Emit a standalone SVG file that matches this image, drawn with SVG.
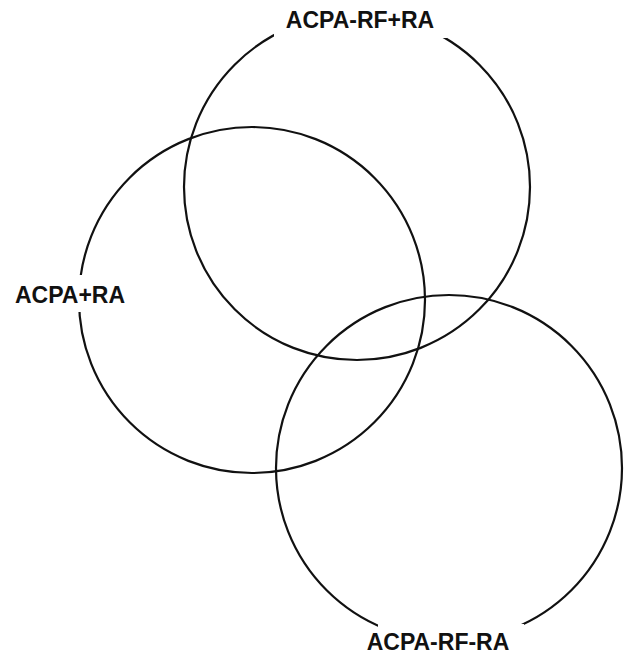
<svg xmlns="http://www.w3.org/2000/svg" width="630" height="654" viewBox="0 0 630 654">
<style>
.c{fill:none;stroke:#111;stroke-width:2.2}
.m{fill:#fff;stroke:none}
.t{font-family:"Liberation Sans",Arial,sans-serif;font-weight:bold;font-size:23px;fill:#111;text-anchor:middle}
</style>
<rect width="630" height="654" fill="#fff"/>
<g id="connectors"></g>
<g id="node-acpa-rf-plus-ra">
<circle class="c" cx="357" cy="187" r="173"/>
<rect class="m" x="274" y="0" width="173" height="38"/>
<text class="t" x="360" y="28">ACPA-RF+RA</text>
</g>
<g id="node-acpa-plus-ra">
<circle class="c" cx="252" cy="300" r="173"/>
<rect class="m" x="10" y="275" width="120" height="37"/>
<text class="t" x="70" y="303">ACPA+RA</text>
</g>
<g id="node-acpa-rf-ra">
<circle class="c" cx="449" cy="468" r="173"/>
<rect class="m" x="378" y="624" width="146" height="30"/>
<text class="t" x="438" y="650">ACPA-RF-RA</text>
</g>
</svg>
